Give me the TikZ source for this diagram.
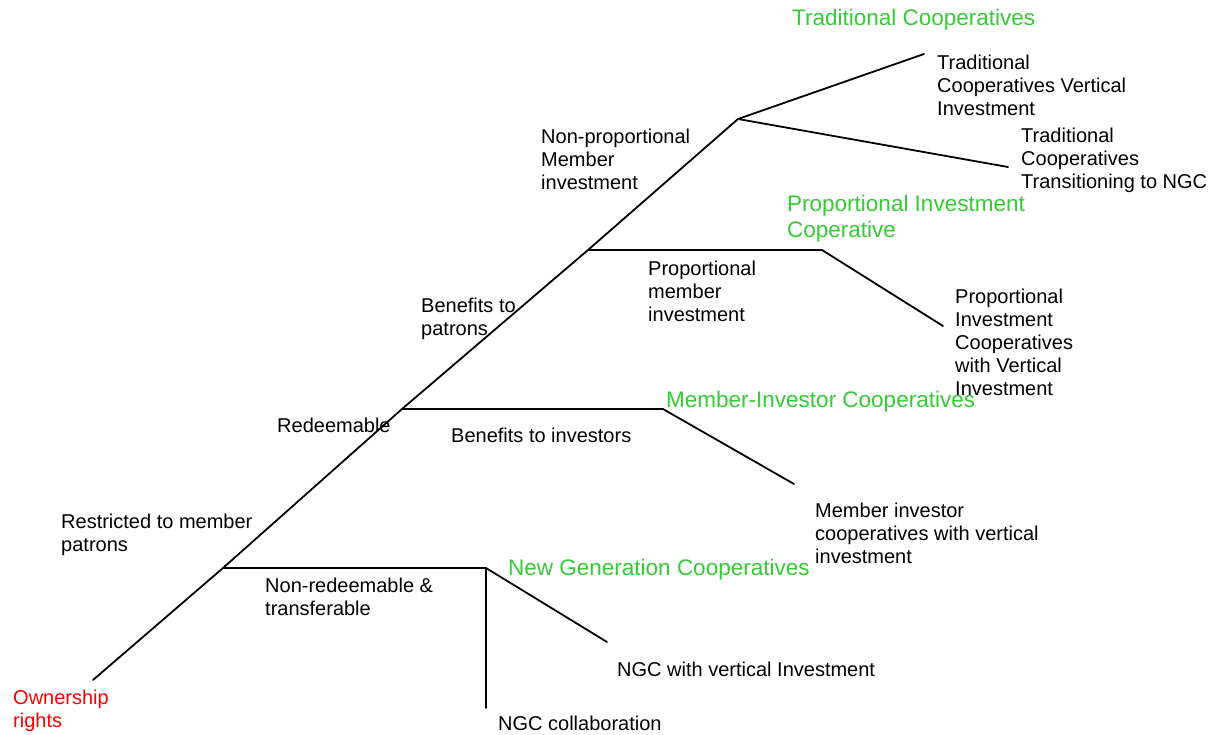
\documentclass[tikz,border=0pt]{standalone}
\usepackage{fontspec}
\setmainfont{Liberation Sans}
\definecolor{typegreen}{RGB}{51,204,51}
\definecolor{rootred}{RGB}{255,0,0}
\newcommand{\stack}[1]{\begin{tabular}[t]{@{}l@{}}#1\end{tabular}}
\begin{document}
\begin{tikzpicture}[x=1pt,y=-1pt,
  branch/.style={draw=black,line width=1.8pt,line cap=round,line join=round},
  label/.style={anchor=base west,inner sep=0pt,font=\fontsize{20}{23}\selectfont,text=black},
  typelabel/.style={anchor=base west,inner sep=0pt,font=\fontsize{22.5}{26}\selectfont,text=typegreen},
  rootlabel/.style={anchor=base west,inner sep=0pt,font=\fontsize{20}{23}\selectfont,text=rootred}]
\useasboundingbox (0,0) rectangle (1217,735);

% branching points of the decision tree
\coordinate (root) at (93,680);
\coordinate (nr)   at (223,568);
\coordinate (rd)   at (402,409);
\coordinate (pr)   at (588,250);
\coordinate (np)   at (738,119);
\coordinate (tv)   at (924,54);
\coordinate (tt)   at (1008,167);
\coordinate (pe)   at (822,250);
\coordinate (pv)   at (943,326);
\coordinate (me)   at (663,409);
\coordinate (mv)   at (794,484);
\coordinate (ge)   at (486,568);
\coordinate (gv)   at (607,642);
\coordinate (gc)   at (486,708);

% trunk
\draw[branch] (root) -- (nr) -- (rd) -- (pr) -- (np);
% traditional cooperatives
\draw[branch] (np) -- (tv);
\draw[branch] (np) -- (tt);
% proportional investment
\draw[branch] (pr) -- (pe) -- (pv);
% member-investor
\draw[branch] (rd) -- (me) -- (mv);
% new generation
\draw[branch] (nr) -- (ge) -- (gv);
\draw[branch] (ge) -- (gc);

% cooperative types
\node[typelabel] (tradtype) at (792,26) {Traditional Cooperatives};
\node[typelabel] (proptype) at (787,212) {\stack{Proportional Investment\\Coperative}};
\node[typelabel] (memtype)  at (666,407) {Member-Investor Cooperatives};
\node[typelabel] (ngctype)  at (508,575) {New Generation Cooperatives};

% edge descriptions
\node[label] (nonprop) at (541,144) {\stack{Non-proportional\\Member\\investment}};
\node[label] (propinv) at (648,275) {\stack{Proportional\\member\\investment}};
\node[label] (benpat)  at (421,312) {\stack{Benefits to\\patrons}};
\node[label] (redeem)  at (277,432) {Redeemable};
\node[label] (beninv)  at (451,442) {Benefits to investors};
\node[label] (restr)   at (61,528)  {\stack{Restricted to member\\patrons}};
\node[label] (nonred)  at (265,592) {\stack{Non-redeemable \&\\transferable}};

% leaves
\node[label] (tvleaf) at (937,70)  {\stack{Traditional\\Cooperatives Vertical\\Investment}};
\node[label] (ttleaf) at (1021,143) {\stack{Traditional\\Cooperatives\\Transitioning to NGC}};
\node[label] (pvleaf) at (955,303) {\stack{Proportional\\Investment\\Cooperatives\\with Vertical\\Investment}};
\node[label] (mvleaf) at (815,517) {\stack{Member investor\\cooperatives with vertical\\investment}};
\node[label] (gvleaf) at (617,676) {NGC with vertical Investment};
\node[label] (gcleaf) at (498,730) {NGC collaboration};

% root
\node[rootlabel] (own) at (13,704) {\stack{Ownership\\rights}};
\end{tikzpicture}
\end{document}
